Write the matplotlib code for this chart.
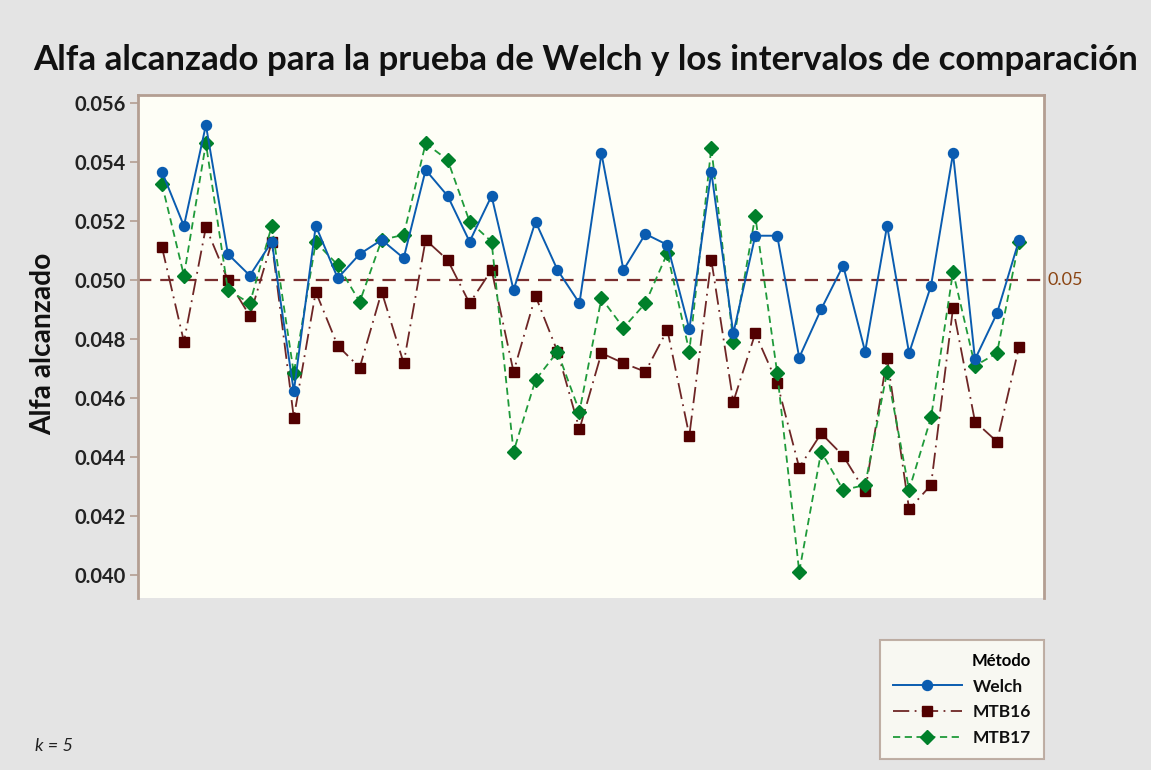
import matplotlib
matplotlib.use("Agg")
import matplotlib.pyplot as plt
from matplotlib.lines import Line2D

plt.rcParams['font.family'] = ['Lato', 'DejaVu Sans']

x_index = list(range(40))
welch = [0.05367, 0.05183, 0.05525, 0.05088, 0.05015, 0.05130, 0.04622, 0.05184, 0.05006, 0.05088,
         0.05136, 0.05074, 0.05373, 0.05285, 0.05130, 0.05285, 0.04966, 0.05198, 0.05034, 0.04921,
         0.05429, 0.05034, 0.05156, 0.05119, 0.04833, 0.05367, 0.04819, 0.05150, 0.05150, 0.04737,
         0.04901, 0.05049, 0.04757, 0.05184, 0.04752, 0.04981, 0.05429, 0.04731, 0.04887, 0.05134]
mtb16 = [0.05111, 0.04791, 0.05179, 0.05000, 0.04878, 0.05128, 0.04533, 0.04960, 0.04777, 0.04703,
         0.04960, 0.04718, 0.05136, 0.05068, 0.04921, 0.05034, 0.04689, 0.04946, 0.04757, 0.04494,
         0.04752, 0.04718, 0.04689, 0.04831, 0.04472, 0.05068, 0.04587, 0.04819, 0.04650, 0.04364,
         0.04480, 0.04404, 0.04283, 0.04737, 0.04223, 0.04305, 0.04905, 0.04520, 0.04452, 0.04772]
mtb17 = [0.05325, 0.05015, 0.05463, 0.04966, 0.04921, 0.05184, 0.04684, 0.05128, 0.05051, 0.04926,
         0.05136, 0.05153, 0.05463, 0.05407, 0.05198, 0.05130, 0.04418, 0.04661, 0.04757, 0.04554,
         0.04938, 0.04838, 0.04921, 0.05091, 0.04757, 0.05449, 0.04791, 0.05217, 0.04684, 0.04011,
         0.04418, 0.04288, 0.04305, 0.04689, 0.04288, 0.04534, 0.05028, 0.04709, 0.04752, 0.05130]
y_ticks = [0.040, 0.042, 0.044, 0.046, 0.048, 0.050, 0.052, 0.054, 0.056]
ref_value = 0.05

title = "Alfa alcanzado para la prueba de Welch y los intervalos de comparación"
ylabel = "Alfa alcanzado"
legend_title = "Método"
series_names = ["Welch", "MTB16", "MTB17"]

BG = '#e4e4e4'
PANEL = '#fefef6'
SPINE = '#b39e92'
BLUE = '#0a5cb0'
RED = '#520000'
RED_LINE = '#6e2626'
GREEN = '#00802a'
GREEN_LINE = '#1f9a3a'
W, H = 1151, 770

fig = plt.figure(figsize=(W / 100, H / 100), dpi=100, facecolor=BG)
ax = fig.add_axes([138 / W, 1 - 598 / H, (1044 - 138) / W, (598 - 95) / H])
ax.set_facecolor(PANEL)

ax.axhline(ref_value, color='#7a2e2e', lw=1.6, ls=(0, (6, 4)), zorder=1)

ax.plot(x_index, mtb16, color=RED_LINE, lw=1.3, ls=(0, (9, 3, 1, 3)),
        marker='s', ms=7.5, mfc=RED, mec=RED, zorder=2)
ax.plot(x_index, mtb17, color=GREEN_LINE, lw=1.3, ls=(0, (4, 2.5)),
        marker='D', ms=7.5, mfc=GREEN, mec=GREEN, zorder=3)
ax.plot(x_index, welch, color=BLUE, lw=1.4, ls='-',
        marker='o', ms=7.2, mfc=BLUE, mec=BLUE, zorder=4)

ax.set_xlim(-1.09, 40.14)
ax.set_ylim(0.03922, 0.05627)
ax.set_xticks([])
ax.set_yticks(y_ticks)
ax.set_yticklabels([f"{v:.3f}" for v in y_ticks])
ax.tick_params(axis='y', direction='out', length=6, width=1.2, color=SPINE,
               labelsize=14.5, labelcolor='#222222', pad=3)
for lab in ax.get_yticklabels():
    lab.set_fontweight('bold')
for side in ['left', 'top', 'right']:
    ax.spines[side].set_color(SPINE)
    ax.spines[side].set_linewidth(2)
ax.spines['bottom'].set_visible(False)

ax.text(1.004, ref_value, "0.05", transform=ax.get_yaxis_transform(),
        color='#8b4513', fontsize=13, va='center', ha='left')

t_title = fig.text(33 / W, 1 - 60 / H, title, fontsize=22, fontweight='bold',
                   color='#111111', ha='left', va='center')
t_ylab = fig.text(43 / W, 1 - 344 / H, ylabel, fontsize=15, fontweight='bold', color='#111111',
                  rotation=90, ha='center', va='center')
fig.text(35 / W, 1 - 746 / H, "k = 5", fontsize=13, style='italic', color='#222222',
         ha='left', va='center')

# fit title / ylabel sizes to target extents
renderer = fig.canvas.get_renderer()
bb = t_title.get_window_extent(renderer)
t_title.set_fontsize(22 * 1102 / bb.width)
bb = t_ylab.get_window_extent(renderer)
t_ylab.set_fontsize(15 * 182 / bb.height)

handles = [
    Line2D([0], [0], color=BLUE, lw=1.4, marker='o', ms=7.2, mfc=BLUE, mec=BLUE),
    Line2D([0], [0], color=RED_LINE, lw=1.3, ls=(0, (9, 3, 1, 3)), marker='s', ms=7.5, mfc=RED, mec=RED),
    Line2D([0], [0], color=GREEN_LINE, lw=1.3, ls=(0, (4, 2.5)), marker='D', ms=7.5, mfc=GREEN, mec=GREEN),
]
leg = fig.legend(handles, series_names, title=legend_title,
                 loc='upper right', bbox_to_anchor=(1044 / W, 1 - 640 / H),
                 frameon=True, fancybox=False, handlelength=4.0, handletextpad=0.6,
                 prop={'weight': 'bold', 'size': 12.5}, borderpad=0.75,
                 labelspacing=0.55, alignment='right', borderaxespad=0)
leg.get_title().set_fontweight('bold')
leg.get_title().set_fontsize(12)
leg.get_frame().set_facecolor(PANEL)
leg.get_frame().set_edgecolor(SPINE)
leg.get_frame().set_linewidth(1.5)
for t in leg.get_texts():
    t.set_color('#111111')

fig.savefig("out.png", dpi=100, facecolor=BG)
